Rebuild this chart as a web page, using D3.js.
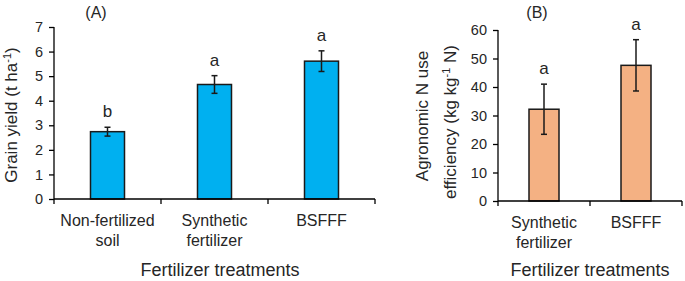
<!DOCTYPE html>
<html>
<head>
<meta charset="utf-8">
<script src="https://cdn.jsdelivr.net/npm/d3@7"></script>
<style>
  body { margin: 0; background: #fff; }
  text { font-family: "Liberation Sans", Arial, sans-serif; fill: #262626; }
</style>
</head>
<body>
<div id="chart"></div>
<script>
// panel A: grain yield
var yieldCats = [["Non-fertilized", "soil"], ["Synthetic", "fertilizer"], ["BSFFF"]];
var yieldMeans = [2.74, 4.66, 5.61];
var yieldErr = [0.18, 0.36, 0.42];
var yieldLetters = ["b", "a", "a"];
var yieldTicks = [0, 1, 2, 3, 4, 5, 6, 7];

// panel B: agronomic N use efficiency
var aeCats = [["Synthetic", "fertilizer"], ["BSFFF"]];
var aeMeans = [32.2, 47.6];
var aeErr = [8.8, 9.0];
var aeLetters = ["a", "a"];
var aeTicks = [0, 10, 20, 30, 40, 50, 60];

var svg = d3.select("#chart").append("svg")
    .attr("width", 685)
    .attr("height", 281);

function drawPanel(opt) {
    var g = svg.append("g");

    var x = d3.scaleBand()
        .domain(d3.range(opt.cats.length))
        .range([opt.left, opt.right]);

    var y = d3.scaleLinear()
        .domain([0, opt.ymax])
        .range([opt.bottom, opt.top]);

    // y axis
    var yAxis = g.append("g")
        .attr("transform", "translate(" + opt.left + ",0)")
        .call(d3.axisLeft(y).tickValues(opt.ticks).tickFormat(d3.format("d")).tickSize(5).tickPadding(6));
    yAxis.select(".domain").attr("d", "M0," + (opt.bottom + 5) + "V" + opt.top);
    yAxis.selectAll("text").style("font-size", "14.5px").attr("fill", "#262626");
    yAxis.selectAll("line, path").attr("stroke", "#000").attr("stroke-width", 1.3);

    // bars
    g.selectAll("rect.bar")
        .data(opt.means)
        .enter().append("rect")
        .attr("class", "bar")
        .attr("x", function (d, i) { return x(i) + (x.bandwidth() - opt.barW) / 2; })
        .attr("y", function (d) { return y(d); })
        .attr("width", opt.barW)
        .attr("height", function (d) { return y(0) - y(d); })
        .attr("fill", opt.color)
        .attr("stroke", "#1a1a1a")
        .attr("stroke-width", 1.5);

    // error bars
    var eb = g.selectAll("g.err")
        .data(opt.means)
        .enter().append("g")
        .attr("class", "err")
        .attr("transform", function (d, i) { return "translate(" + (x(i) + x.bandwidth() / 2) + ",0)"; });
    eb.append("line")
        .attr("y1", function (d, i) { return y(d - opt.err[i]); })
        .attr("y2", function (d, i) { return y(d + opt.err[i]); })
        .attr("stroke", "#1a1a1a").attr("stroke-width", 1.5);
    eb.append("line")
        .attr("x1", -3).attr("x2", 3)
        .attr("y1", function (d, i) { return y(d - opt.err[i]); })
        .attr("y2", function (d, i) { return y(d - opt.err[i]); })
        .attr("stroke", "#1a1a1a").attr("stroke-width", 1.5);
    eb.append("line")
        .attr("x1", -3).attr("x2", 3)
        .attr("y1", function (d, i) { return y(d + opt.err[i]); })
        .attr("y2", function (d, i) { return y(d + opt.err[i]); })
        .attr("stroke", "#1a1a1a").attr("stroke-width", 1.5);

    // significance letters
    eb.append("text")
        .attr("y", function (d, i) { return y(d + opt.err[i]) - 10; })
        .attr("text-anchor", "middle")
        .style("font-size", "17px")
        .text(function (d, i) { return opt.letters[i]; });

    // x axis with ticks between categories
    var xa = g.append("g");
    xa.append("line")
        .attr("x1", opt.left).attr("x2", opt.right)
        .attr("y1", opt.bottom).attr("y2", opt.bottom)
        .attr("stroke", "#000").attr("stroke-width", 1.3);
    xa.selectAll("line.tk")
        .data(d3.range(1, opt.cats.length + 1))
        .enter().append("line")
        .attr("class", "tk")
        .attr("x1", function (d) { return x(d - 1) + x.bandwidth(); })
        .attr("x2", function (d) { return x(d - 1) + x.bandwidth(); })
        .attr("y1", opt.bottom).attr("y2", opt.bottom + 5)
        .attr("stroke", "#000").attr("stroke-width", 1.3);

    // category labels
    var lab = g.selectAll("text.cat")
        .data(opt.cats)
        .enter().append("text")
        .attr("class", "cat")
        .attr("text-anchor", "middle")
        .style("font-size", "16px")
        .attr("x", function (d, i) { return x(i) + x.bandwidth() / 2; })
        .attr("y", opt.bottom + 27);
    lab.selectAll("tspan")
        .data(function (d) { return d; })
        .enter().append("tspan")
        .attr("x", function () { return d3.select(this.parentNode).attr("x"); })
        .attr("dy", function (d, i) { return i === 0 ? 0 : 20; })
        .text(function (d) { return d; });

    // x title
    g.append("text")
        .attr("x", opt.xTitleX)
        .attr("y", 276)
        .attr("text-anchor", "middle")
        .style("font-size", "18px")
        .text("Fertilizer treatments");

    // panel label
    g.append("text")
        .attr("x", opt.panelX)
        .attr("y", 18)
        .attr("text-anchor", "middle")
        .style("font-size", "16px")
        .text(opt.panel);

    return { g: g, y: y };
}

var a = drawPanel({
    cats: yieldCats, means: yieldMeans, err: yieldErr, letters: yieldLetters,
    ticks: yieldTicks, ymax: 7, left: 54, right: 375, top: 27, bottom: 199,
    barW: 34, color: "#00b0f0", xTitleX: 220, panelX: 96, panel: "(A)"
});

var b = drawPanel({
    cats: aeCats, means: aeMeans, err: aeErr, letters: aeLetters,
    ticks: aeTicks, ymax: 60, left: 498, right: 682, top: 30, bottom: 201,
    barW: 30, color: "#f4b183", xTitleX: 590, panelX: 537, panel: "(B)"
});

// y titles
var ta = a.g.append("text")
    .attr("transform", "translate(17,115) rotate(-90)")
    .attr("text-anchor", "middle")
    .style("font-size", "17px");
ta.append("tspan").text("Grain yield (t ha");
ta.append("tspan").attr("baseline-shift", "super").style("font-size", "11px").text("-1");
ta.append("tspan").text(")");

b.g.append("text")
    .attr("transform", "translate(428,116) rotate(-90)")
    .attr("text-anchor", "middle")
    .style("font-size", "17px")
    .text("Agronomic N use");
var tb = b.g.append("text")
    .attr("transform", "translate(456,122) rotate(-90)")
    .attr("text-anchor", "middle")
    .style("font-size", "17px");
tb.append("tspan").text("efficiency (kg kg");
tb.append("tspan").attr("baseline-shift", "super").style("font-size", "11px").text("-1");
tb.append("tspan").text(" N)");
</script>
</body>
</html>
